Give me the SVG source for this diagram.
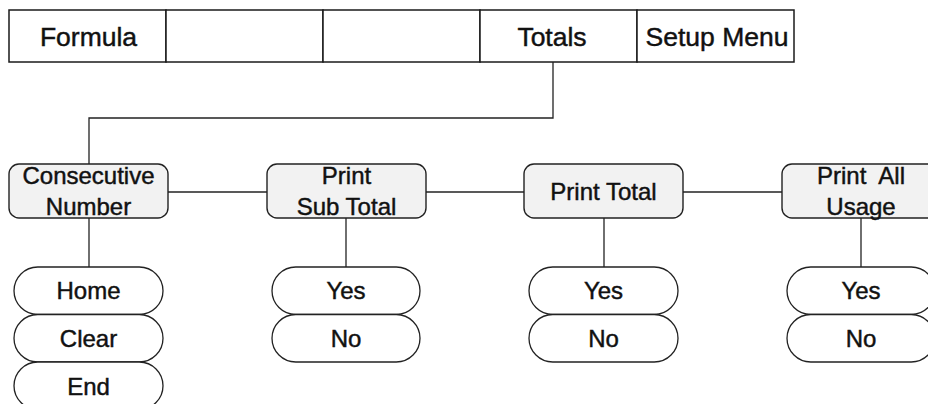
<svg xmlns="http://www.w3.org/2000/svg" width="928" height="404" viewBox="0 0 928 404">
<style>
  text { font-family: "Liberation Sans", Arial, Helvetica, sans-serif; fill: #111; stroke: #111; stroke-width: 0.45; text-anchor: middle; }
  .bar text { font-size: 26.5px; }
  .cell { fill: #fff; stroke: #1a1a1a; stroke-width: 1.5; }
  .node rect { fill: #f2f2f2; stroke: #222; stroke-width: 1.4; }
  .node text, .opt text { font-size: 24px; }
  .opt rect { fill: #fff; stroke: #222; stroke-width: 1.3; }
  .conn { fill: none; stroke: #222; stroke-width: 1.3; }
</style>
<rect width="928" height="404" fill="#fff"/>
<g class="bar" id="menu-bar">
  <g id="cell-formula"><rect class="cell" x="9" y="10" width="157" height="52"/><text x="88.5" y="45.5">Formula</text></g>
  <g id="cell-2"><rect class="cell" x="166" y="10" width="157" height="52"/></g>
  <g id="cell-3"><rect class="cell" x="323" y="10" width="157" height="52"/></g>
  <g id="cell-totals"><rect class="cell" x="480" y="10" width="157" height="52"/><text x="552" y="45.5">Totals</text></g>
  <g id="cell-setup"><rect class="cell" x="637" y="10" width="157" height="52"/><text x="717" y="45.5">Setup Menu</text></g>
</g>
<g id="connectors" class="conn">
  <polyline points="553,62 553,118 89,118 89,164"/>
  <line x1="168" y1="192" x2="267" y2="192"/>
  <line x1="426" y1="192" x2="524" y2="192"/>
  <line x1="683" y1="192" x2="782" y2="192"/>
  <line x1="89" y1="218" x2="89" y2="267"/>
  <line x1="346" y1="218" x2="346" y2="267"/>
  <line x1="604" y1="218" x2="604" y2="267"/>
  <line x1="861" y1="218" x2="861" y2="267"/>
</g>
<g class="node" id="node-consecutive"><rect x="9" y="164" width="159" height="54" rx="10"/><text x="88.5" y="184">Consecutive</text><text x="88.5" y="215">Number</text></g>
<g class="node" id="node-subtotal"><rect x="267" y="164" width="159" height="54" rx="10"/><text x="346.5" y="184">Print</text><text x="346.5" y="215">Sub Total</text></g>
<g class="node" id="node-total"><rect x="524" y="164" width="159" height="54" rx="10"/><text x="603.5" y="200">Print Total</text></g>
<g class="node" id="node-usage"><rect x="782" y="164" width="158" height="54" rx="10"/><text x="861" y="184" xml:space="preserve">Print  All</text><text x="861" y="215">Usage</text></g>
<g class="opt" id="opt-home"><rect x="14" y="267" width="149" height="47.5" rx="23.75"/><text x="88.5" y="299">Home</text></g>
<g class="opt" id="opt-clear"><rect x="14" y="314.5" width="149" height="47.5" rx="23.75"/><text x="88.5" y="346.5">Clear</text></g>
<g class="opt" id="opt-end"><rect x="14" y="362" width="149" height="47.5" rx="23.75"/><text x="88.5" y="395">End</text></g>
<g class="opt" id="opt-sub-yes"><rect x="272" y="267" width="148" height="47.5" rx="23.75"/><text x="346" y="299">Yes</text></g>
<g class="opt" id="opt-sub-no"><rect x="272" y="314.5" width="148" height="47.5" rx="23.75"/><text x="346" y="346.5">No</text></g>
<g class="opt" id="opt-total-yes"><rect x="529" y="267" width="149" height="47.5" rx="23.75"/><text x="603.5" y="299">Yes</text></g>
<g class="opt" id="opt-total-no"><rect x="529" y="314.5" width="149" height="47.5" rx="23.75"/><text x="603.5" y="346.5">No</text></g>
<g class="opt" id="opt-usage-yes"><rect x="787" y="267" width="148" height="47.5" rx="23.75"/><text x="861" y="299">Yes</text></g>
<g class="opt" id="opt-usage-no"><rect x="787" y="314.5" width="148" height="47.5" rx="23.75"/><text x="861" y="346.5">No</text></g>
</svg>
